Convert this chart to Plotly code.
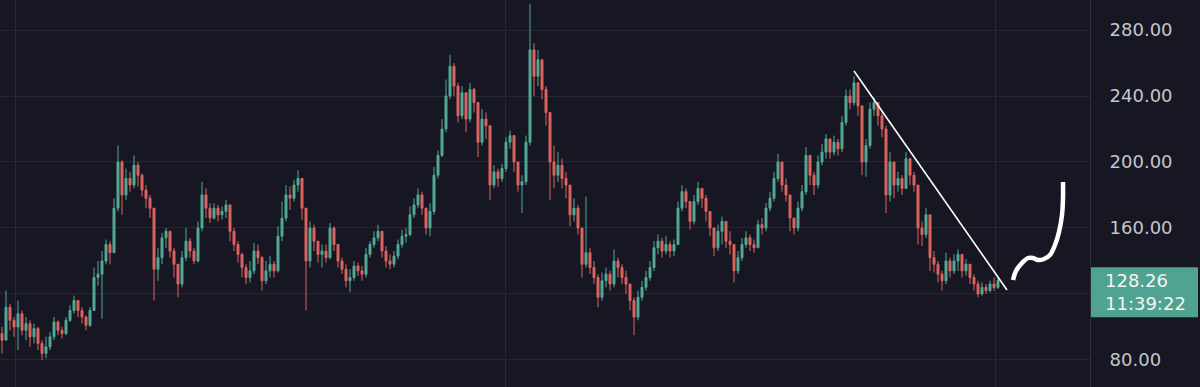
import plotly.graph_objects as go

# ---- data ----
first_open = 96
closes = [92, 112, 104, 100, 108, 98, 102, 94, 99, 90,
          84, 88, 94, 103, 98, 96,
          104, 110, 116, 110, 106, 101,
          110, 130, 132, 140, 150, 145,
          172, 200, 180, 190, 186, 198, 192, 183, 178, 172,
          135, 142, 154, 158, 146, 138, 126, 142, 152, 146,
          140, 160, 180, 172, 166, 172, 168, 170, 174,
          158, 150, 144, 136, 130, 134, 146, 142, 128,
          134, 138, 134, 155, 166, 180, 178, 186, 190,
          172, 140, 160, 152, 144, 146, 142, 160, 150,
          140, 135, 128, 130, 137, 134, 132, 144, 150,
          154, 158, 146, 140, 138, 143, 150, 155, 156,
          168, 174, 180, 172, 160, 170, 192, 204, 220, 240,
          258, 246, 228, 242, 226, 244, 236, 212, 226, 222, 186,
          194, 190, 196, 212, 216, 200, 186, 188, 212,
          268, 252, 262, 244, 230, 200, 192, 198, 190,
          186, 168, 172, 160, 138, 145, 136, 130, 118,
          128, 132, 126, 140, 136, 130, 126, 116, 106,
          118, 124, 130, 136, 148, 152, 146, 150, 146, 150,
          172, 182, 176, 164, 176, 184, 178, 170, 160,
          148, 158, 164, 152, 150, 134, 142, 150, 154, 150,
          148, 162, 160, 172, 178, 190, 200, 186, 180,
          166, 160, 172, 182, 204, 192, 186, 200, 206, 214,
          206, 212, 208, 224, 240, 236, 248, 234, 200,
          210, 232, 236, 228, 220, 180, 200, 186, 190,
          184, 202, 192, 186, 160, 156, 168, 142, 138,
          132, 128, 140, 134, 140, 144, 134, 138, 130,
          126, 120, 124, 122, 126, 124, 128.26]
highs = [100, 122, 114, 106, 116, 110, 106, 104, 102, 100,
         92, 94, 97, 106, 104, 100,
         106, 113, 119, 115, 112, 107,
         112, 136, 140, 146, 153, 152,
         178, 210, 201, 196, 194, 204, 200, 193, 186, 180,
         172, 148, 157, 160, 157, 148, 138, 146, 160, 154,
         148, 164, 188, 184, 175, 175, 174, 173, 177,
         172, 160, 152, 145, 138, 140, 151, 150, 143,
         140, 143, 140, 161, 176, 186, 185, 189, 195,
         190, 172, 164, 162, 152, 150, 150, 163, 161,
         150, 142, 138, 135, 140, 139, 137, 148, 152,
         158, 162, 158, 149, 144, 146, 153, 159, 160,
         173, 178, 184, 182, 172, 175, 197, 207, 226, 250,
         265, 260, 248, 246, 242, 248, 245, 236, 232, 230, 222,
         198, 196, 199, 215, 219, 216, 200, 192, 216,
         296, 272, 268, 262, 246, 230, 210, 206, 202,
         194, 184, 178, 174, 156, 179, 148, 140, 132,
         133, 136, 134, 147, 142, 138, 134, 126, 118,
         122, 128, 134, 140, 152, 156, 154, 155, 152, 153,
         176, 186, 184, 176, 180, 188, 184, 180, 170,
         160, 162, 167, 162, 158, 150, 146, 154, 158, 156,
         153, 165, 166, 175, 182, 194, 205, 200, 190,
         180, 166, 176, 186, 209, 204, 194, 204, 211, 217,
         214, 216, 214, 228, 244, 244, 252, 248, 234,
         214, 236, 239, 236, 230, 222, 206, 200, 194,
         192, 206, 202, 194, 186, 164, 172, 166, 146,
         140, 134, 145, 142, 144, 147, 144, 141, 138,
         132, 128, 127, 126, 128, 130, 131]
lows = [84, 92, 98, 94, 86, 95, 92, 88, 90, 86,
        80, 81, 86, 92, 95, 93,
        95, 103, 108, 106, 102, 98,
        100, 110, 125, 105, 138, 138,
        145, 170, 168, 177, 182, 184, 185, 179, 172, 166,
        116, 128, 138, 148, 142, 130, 118, 124, 140, 142,
        138, 139, 158, 166, 163, 165, 164, 165, 166,
        152, 146, 139, 130, 126, 127, 132, 138, 122,
        126, 130, 130, 133, 152, 164, 171, 176, 182,
        165, 110, 136, 146, 139, 136, 139, 141, 146,
        136, 132, 124, 121, 128, 131, 128, 130, 142,
        148, 152, 142, 136, 135, 136, 141, 148, 151,
        155, 166, 172, 168, 156, 155, 168, 190, 203, 218,
        238, 240, 224, 226, 218, 224, 230, 203, 210, 214, 177,
        184, 185, 188, 194, 208, 194, 182, 169, 186,
        210, 240, 246, 238, 222, 177, 184, 188, 184,
        178, 161, 164, 156, 130, 136, 132, 126, 112,
        116, 124, 122, 124, 130, 126, 120, 110, 95,
        104, 116, 122, 128, 134, 144, 142, 144, 142, 143,
        150, 170, 172, 159, 162, 174, 172, 164, 155,
        143, 146, 150, 148, 144, 127, 132, 140, 148, 146,
        145, 148, 156, 158, 170, 176, 188, 182, 176,
        158, 156, 158, 170, 180, 186, 180, 184, 198, 202,
        202, 204, 204, 206, 222, 232, 234, 228, 192,
        191, 208, 228, 222, 215, 169, 176, 178, 182,
        180, 184, 186, 182, 150, 149, 154, 134, 133,
        127, 122, 126, 130, 132, 134, 130, 131, 126,
        122, 118, 119, 120, 121, 122, 123]

# drawn trend line and hand-drawn curve (bar index, price)
trend_x = [213, 251.25]
trend_y = [255.2, 122.4]
curve_x = [252.75, 253.5, 255, 256.5, 257.75, 259, 260.5, 262, 263.25, 264.25, 265, 265.25, 265.25]
curve_y = [128.5, 134, 138.8, 141.8, 141.8, 140.6, 141.2, 143.6, 149.7, 157.6, 167.9, 178.2, 187.9]

y_ticks = [80, 120, 160, 200, 240, 280]
y_labels = ["80.00", "", "160.00", "200.00", "240.00", "280.00"]  # 120.00 sits under the price tag
x_grid = [3.25, 125.75, 248.25]
last_price = 128.26
last_time = "11:39:22"

# ---- build ----
n = len(closes)
idx = list(range(n))
opens = [first_open] + closes[:-1]
hi = [max(h, o, c) for h, o, c in zip(highs, opens, closes)]
lo = [min(l, o, c) for l, o, c in zip(lows, opens, closes)]

UP = "#52ab97"
DOWN = "#de6560"
BG = "#161722"
GRID = "#252733"
TAG = "#4fa390"
FONT = "DejaVu Sans, Verdana, sans-serif"

fig = go.Figure()
fig.add_trace(go.Candlestick(
    x=idx, open=opens, high=hi, low=lo, close=closes,
    increasing=dict(line=dict(color=UP, width=1), fillcolor=UP),
    decreasing=dict(line=dict(color=DOWN, width=1), fillcolor=DOWN),
    whiskerwidth=0, hoverinfo="skip", showlegend=False,
))
fig.add_trace(go.Scatter(x=trend_x, y=trend_y, mode="lines",
                         line=dict(color="#ffffff", width=1.6),
                         hoverinfo="skip", showlegend=False))
fig.add_trace(go.Scatter(x=curve_x, y=curve_y, mode="lines",
                         line=dict(color="#ffffff", width=4.5, shape="spline", smoothing=1.0),
                         hoverinfo="skip", showlegend=False))

fig.update_layout(
    width=1200, height=387,
    margin=dict(l=0, r=110, t=0, b=0),
    paper_bgcolor=BG, plot_bgcolor=BG,
    font=dict(family=FONT, color="#c4c6cc", size=18),
    xaxis=dict(range=[-0.5, 272], showgrid=True, gridcolor=GRID, gridwidth=1,
               tickvals=x_grid, showticklabels=False, zeroline=False,
               rangeslider=dict(visible=False), fixedrange=True),
    yaxis=dict(side="right", range=[63.6, 298.2], tickvals=y_ticks,
               ticktext=y_labels,
               showgrid=True, gridcolor=GRID, gridwidth=1, zeroline=False,
               showline=True, linecolor="#2c2e3a", linewidth=1,
               ticks="", ticklabelstandoff=15, fixedrange=True),
    showlegend=False,
)

# price tag box (pixel-sized, anchored at the last price)
fig.add_shape(
    type="rect", xref="paper", xsizemode="pixel", xanchor=1.0, x0=1, x1=108,
    yref="y", ysizemode="pixel", yanchor=last_price, y0=-37, y1=13,
    fillcolor=TAG, line=dict(width=0), layer="above",
)
fig.add_annotation(
    xref="paper", x=1.0, xanchor="left", xshift=13,
    yref="y", y=last_price, yanchor="middle", yshift=-12,
    text=f"{last_price:.2f}<br>{last_time}", showarrow=False, align="left",
    font=dict(family=FONT, color="#f2f5f4", size=18),
)

fig.write_html("out.html")
